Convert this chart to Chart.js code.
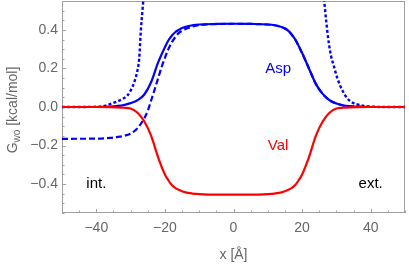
<!DOCTYPE html>
<html>
<head>
<meta charset="utf-8">
<script src="https://cdn.jsdelivr.net/npm/chart.js@4"></script>
<style>
  html, body { margin: 0; padding: 0; background: #fff; }
  #wrap { width: 409px; height: 264px; }
</style>
</head>
<body>
<div id="wrap"><canvas id="chart" width="409" height="264"></canvas></div>
<script>
// Asp, solid line
const xAsp = [-50, -40, -36, -34, -32, -30, -28, -26, -24, -22, -20, -19, -18, -17, -16, -15, -14, -12, -10, -5, 0,
  5, 10, 12, 14, 15, 16, 17, 18, 20, 22, 24, 26, 28, 30, 32, 34, 36, 40, 50];
const asp = [0, 0, 0.002, 0.005, 0.01, 0.02, 0.035, 0.065, 0.13, 0.23, 0.31, 0.345, 0.37, 0.388, 0.4, 0.41, 0.416, 0.424, 0.428, 0.431, 0.432,
  0.431, 0.428, 0.424, 0.415, 0.407, 0.395, 0.375, 0.35, 0.28, 0.2, 0.12, 0.068, 0.035, 0.018, 0.008, 0.004, 0.002, 0, 0];

// Asp, dashed line
const xAspDash = [-50, -40, -36, -34, -32, -30, -28, -26, -25, -24, -23, -22, -21, -20, -19, -18, -17, -16, -14, -12, -10, -5, 0,
  5, 10, 12, 14, 15, 16, 17, 18, 20, 22, 24, 26, 28, 30, 32, 34, 36, 40, 50];
const aspDash = [-0.165, -0.164, -0.16, -0.156, -0.15, -0.138, -0.11, -0.058, -0.02, 0.035, 0.09, 0.148, 0.205, 0.255, 0.3, 0.335, 0.362, 0.383, 0.405, 0.417, 0.425, 0.43, 0.432,
  0.431, 0.428, 0.424, 0.415, 0.407, 0.395, 0.375, 0.35, 0.28, 0.2, 0.12, 0.068, 0.035, 0.018, 0.008, 0.004, 0.002, 0, 0];

// Asp, dotted line (runs off the top in the middle)
const xAspDot = [-50, -40, -38, -36, -34, -32, -31, -30, -29, -28, -27.5, -27, -26.5, -26, -25.6, 0,
  25.6, 26, 26.5, 27, 27.8, 28.5, 29.3, 30, 31.2, 32.5, 33.6, 35, 36.5, 38, 40, 45, 50];
const aspDot = [0, 0.001, 0.004, 0.015, 0.028, 0.045, 0.058, 0.085, 0.125, 0.19, 0.25, 0.4, 0.51, 0.62, 0.75, null,
  0.75, 0.62, 0.54, 0.45, 0.33, 0.26, 0.21, 0.165, 0.106, 0.062, 0.037, 0.02, 0.012, 0.005, 0.002, 0, 0];

// Val, solid red
const xVal = [-50, -40, -36, -34, -32, -30, -28, -26, -24, -22, -20, -19, -18, -17, -16, -14, -12, -10, -5, 0,
  5, 10, 12, 14, 16, 17, 18, 19, 20, 22, 24, 26, 28, 30, 32, 34, 36, 40, 50];
const val = [0, 0, -0.001, -0.002, -0.004, -0.008, -0.03, -0.075, -0.15, -0.26, -0.35, -0.38, -0.405, -0.42, -0.43, -0.443, -0.449, -0.452, -0.455, -0.455,
  -0.455, -0.452, -0.449, -0.443, -0.43, -0.42, -0.405, -0.38, -0.35, -0.26, -0.15, -0.075, -0.03, -0.008, -0.004, -0.002, -0.001, 0, 0];

const xTicks = [-40, -20, 0, 20, 40];
const yTicks = [-0.4, -0.2, 0, 0.2, 0.4];

const noteText = ["Asp", "Val", "int.", "ext."];
const noteX = [13, 13, -40, 40];
const noteY = [0.2, -0.2, -0.4, -0.4];
const noteColor = ["#0000ff", "#ff0000", "#000000", "#000000"];

const FONT = '"Liberation Sans", Arial, sans-serif';
const GRAY = "#666666";
const FRAME = "#a0a0a0";

function pts(xs, ys) {
  return xs.map((x, i) => ({ x: x, y: ys[i] }));
}

function minus(s) {
  return s.replace("-", "\u2212");
}

const framePlugin = {
  id: "frame",
  beforeDatasetsDraw(chart) {
    const ctx = chart.ctx;
    const a = chart.chartArea;
    const xs = chart.scales.x;
    const ys = chart.scales.y;
    ctx.save();
    ctx.strokeStyle = FRAME;
    ctx.lineWidth = 1;
    ctx.strokeRect(a.left + 0.5, a.top + 0.5, a.right - a.left - 1, a.bottom - a.top - 1);
    ctx.beginPath();
    for (let v = -50; v <= 50; v += 5) {
      const p = Math.round(xs.getPixelForValue(v)) + 0.5;
      const len = v % 20 === 0 ? 4 : 2.5;
      ctx.moveTo(p, a.bottom);
      ctx.lineTo(p, a.bottom - len);
    }
    for (let k = -11; k <= 11; k++) {
      const v = k * 0.05;
      const p = Math.round(ys.getPixelForValue(v)) + 0.5;
      const len = k % 4 === 0 ? 4 : 2.5;
      ctx.moveTo(a.left, p);
      ctx.lineTo(a.left + len, p);
    }
    ctx.stroke();
    ctx.restore();
  },
  afterDraw(chart) {
    const ctx = chart.ctx;
    const xs = chart.scales.x;
    const ys = chart.scales.y;
    ctx.save();
    // text notes inside the plot
    ctx.font = "15px " + FONT;
    ctx.textAlign = "center";
    ctx.textBaseline = "middle";
    noteText.forEach((t, i) => {
      ctx.fillStyle = noteColor[i];
      ctx.fillText(t, xs.getPixelForValue(noteX[i]), ys.getPixelForValue(noteY[i]));
    });
    // y title with subscript
    ctx.fillStyle = GRAY;
    ctx.textAlign = "left";
    ctx.textBaseline = "alphabetic";
    const big = "14px " + FONT, small = "10px " + FONT;
    ctx.font = big;
    const w1 = ctx.measureText("G").width;
    const w3 = ctx.measureText(" [kcal/mol]").width;
    ctx.font = small;
    const w2 = ctx.measureText("wo").width;
    const total = w1 + w2 + w3;
    ctx.translate(17, (chart.chartArea.top + chart.chartArea.bottom) / 2 + 3);
    ctx.rotate(-Math.PI / 2);
    let x0 = -total / 2;
    ctx.font = big;
    ctx.fillText("G", x0, 0);
    ctx.font = small;
    ctx.fillText("wo", x0 + w1, 3);
    ctx.font = big;
    ctx.fillText(" [kcal/mol]", x0 + w1 + w2, 0);
    ctx.restore();
  }
};

new Chart(document.getElementById("chart"), {
  type: "line",
  data: {
    datasets: [
      {
        label: "Val",
        data: pts(xVal, val),
        borderColor: "#ff0000",
        borderWidth: 2.2,
        order: 0
      },
      {
        label: "Asp",
        data: pts(xAsp, asp),
        borderColor: "#0000ff",
        borderWidth: 2.2,
        order: 1
      },
      {
        label: "Asp dashed",
        data: pts(xAspDash, aspDash),
        borderColor: "#0000ff",
        borderWidth: 2.2,
        borderDash: [6, 3],
        order: 2
      },
      {
        label: "Asp dotted",
        data: pts(xAspDot, aspDot),
        borderColor: "#0000ff",
        borderWidth: 2.4,
        borderDash: [3, 2.2],
        order: 3
      }
    ]
  },
  options: {
    responsive: false,
    devicePixelRatio: 1,
    animation: false,
    layout: { padding: { top: 1, right: 4, left: 0, bottom: 0 } },
    elements: {
      point: { radius: 0 },
      line: { cubicInterpolationMode: "monotone", fill: false, borderCapStyle: "butt" }
    },
    plugins: {
      legend: { display: false },
      tooltip: { enabled: false }
    },
    scales: {
      x: {
        type: "linear",
        min: -50,
        max: 50,
        afterBuildTicks: (s) => { s.ticks = xTicks.map((v) => ({ value: v })); },
        afterFit: (s) => { s.height = 51; s.paddingLeft = 0; s.paddingRight = 0; },
        grid: { display: false, drawTicks: false },
        border: { display: false },
        ticks: {
          color: GRAY,
          font: { family: FONT, size: 14 },
          padding: 7,
          maxRotation: 0,
          callback: (v) => minus(String(v))
        },
        title: {
          display: true,
          text: "x [\u00c5]",
          color: GRAY,
          font: { family: FONT, size: 14 },
          padding: { top: 0, bottom: 0 }
        }
      },
      y: {
        type: "linear",
        min: -0.55,
        max: 0.55,
        afterBuildTicks: (s) => { s.ticks = yTicks.map((v) => ({ value: v })); },
        afterFit: (s) => { s.width = 62; s.paddingTop = 0; s.paddingBottom = 0; },
        grid: { display: false, drawTicks: false },
        border: { display: false },
        ticks: {
          color: GRAY,
          font: { family: FONT, size: 14 },
          padding: 4,
          callback: (v) => minus(Number(v).toFixed(1))
        }
      }
    }
  },
  plugins: [framePlugin]
});
</script>
</body>
</html>
